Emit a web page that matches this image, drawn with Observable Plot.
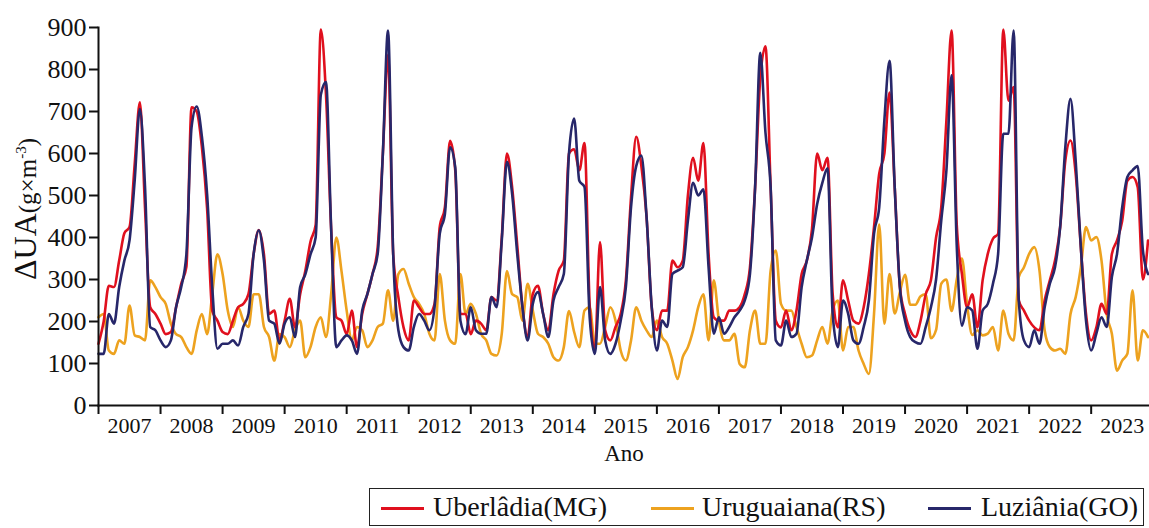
<!DOCTYPE html>
<html><head><meta charset="utf-8">
<script src="https://cdn.jsdelivr.net/npm/d3@7"></script>
<script src="https://cdn.jsdelivr.net/npm/@observablehq/plot@0.6"></script>
<style>
body{margin:0;background:#fff;font-family:"Liberation Serif","Times New Roman",serif;}
#wrap{position:relative;width:1149px;height:528px;overflow:hidden;background:#fff;}
#legend{position:absolute;left:369px;top:488px;width:775px;height:38px;border:1.5px solid #222;box-sizing:border-box;font-size:28px;color:#111;}
.sw{position:absolute;top:18px;width:43px;height:0;border-top:3px solid;}
.lb{position:absolute;top:2px;line-height:32px;white-space:nowrap;}
</style></head><body><div id="wrap"><div id="chart"></div><div id="legend"></div></div>
<script>
const startYear = 2007;
const years = [2007,2008,2009,2010,2011,2012,2013,2014,2015,2016,2017,2018,2019,2020,2021,2022,2023];
const yTicks = [0,100,200,300,400,500,600,700,800,900];
const seriesNames = ["Uberlâdia(MG)", "Uruguaiana(RS)", "Luziânia(GO)"];
const seriesColors = ["#e0101e", "#eda21f", "#27276a"];

// monthly values, Jan 2007 – Dec 2023
const uberlandia = [
147,200,285,282,345,410,425,575,722,470,234,218,
195,170,175,234,290,330,710,700,615,470,226,202,
175,170,202,234,242,265,360,418,360,218,226,155,
202,254,186,265,320,390,430,895,740,420,210,202,
170,226,139,218,265,313,377,600,835,360,258,186,
155,250,234,218,218,242,425,472,630,560,218,218,
170,202,195,179,258,250,400,600,520,380,234,163,
265,285,218,179,265,321,345,600,610,560,625,240,
131,389,179,155,187,218,298,496,640,570,450,234,
179,226,226,345,329,345,500,590,535,625,361,210,
202,202,226,226,234,265,329,520,780,855,520,202,
186,226,179,226,313,345,420,600,560,590,265,186,
298,250,202,195,234,313,425,552,600,745,520,282,
218,179,163,202,265,298,400,472,679,893,430,313,
234,265,186,298,361,397,409,895,726,758,250,226,
202,186,179,250,298,345,425,583,631,552,377,218,
155,186,242,218,361,393,440,535,544,520,300,393];

const uruguaiana = [
210,218,131,123,155,147,238,167,163,155,298,282,
258,242,195,170,163,139,123,179,218,170,265,360,
313,226,187,234,202,187,265,265,187,163,107,170,
163,139,179,202,115,139,187,210,163,265,400,320,
226,155,187,179,139,155,187,195,274,202,313,325,
290,258,242,218,171,155,313,202,155,147,313,218,
242,218,171,155,123,119,171,320,265,258,202,290,
226,171,163,147,115,107,139,225,175,139,226,234,
147,147,187,234,202,131,107,155,234,202,179,163,
202,163,147,107,63,115,139,179,234,265,155,298,
202,155,155,171,99,91,179,226,147,147,321,369,
242,226,226,187,147,115,119,155,187,147,226,250,
131,187,187,131,99,75,218,431,195,313,219,270,
311,240,240,260,265,160,180,290,300,225,300,350,
240,168,179,167,171,187,131,226,171,155,306,329,
361,377,321,179,139,131,135,123,218,258,329,425,
393,401,345,218,171,83,107,123,274,107,179,163];

const luziania = [
123,123,218,195,282,345,393,536,706,520,187,179,
155,139,155,234,282,360,663,712,640,504,282,135,
147,147,155,143,187,218,360,417,345,202,195,147,
195,210,163,282,312,360,400,740,770,420,139,155,
167,155,123,226,265,313,361,600,893,360,179,139,
131,187,218,202,179,234,409,456,615,567,202,170,
234,179,171,171,258,234,393,580,504,360,234,155,
242,270,218,163,250,282,313,600,683,535,520,210,
123,282,155,123,147,202,282,472,570,595,450,234,
131,202,187,313,321,329,440,530,500,515,329,171,
210,171,187,210,226,250,313,520,840,650,520,155,
143,202,163,171,282,345,400,480,530,565,218,139,
250,218,155,147,187,250,409,472,679,821,520,282,
202,163,151,147,187,234,300,440,560,786,380,190,
234,226,135,226,242,290,361,647,647,893,250,155,
139,179,147,234,290,329,425,615,730,583,377,202,
131,171,210,187,306,361,472,544,560,570,370,313];

const toRows = (vals) => vals.map((v, i) => ({t: startYear + i / 12, v}));
const rowsU = toRows(uberlandia), rowsR = toRows(uruguaiana), rowsL = toRows(luziania);

const chart = Plot.plot({
  width: 1149,
  height: 480,
  marginLeft: 98,
  marginRight: 0,
  marginTop: 27,
  marginBottom: 75,
  style: {fontFamily: '"Liberation Serif","Times New Roman",serif', color: "#111", background: "white"},
  x: {domain: [2007, 2023.94]},
  y: {domain: [0, 900]},
  marks: [
    Plot.line(rowsR, {x: "t", y: "v", stroke: seriesColors[1], strokeWidth: 2.6, curve: "monotone-x"}),
    Plot.line(rowsU, {x: "t", y: "v", stroke: seriesColors[0], strokeWidth: 2.6, curve: "monotone-x"}),
    Plot.line(rowsL, {x: "t", y: "v", stroke: seriesColors[2], strokeWidth: 2.6, curve: "monotone-x"}),
    Plot.frame({anchor: "left", stroke: "#111", strokeWidth: 2}),
    Plot.frame({anchor: "bottom", stroke: "#111", strokeWidth: 2}),
    Plot.axisY({ticks: yTicks, tickSize: 9, tickPadding: 3, fontSize: 26, strokeWidth: 2, label: null}),
    Plot.axisX({ticks: years, tickSize: 9, tickFormat: () => "", strokeWidth: 2, label: null}),
    Plot.axisX(years.map(y => y + 0.5), {tickSize: 0, tickPadding: 12, tickFormat: d => String(Math.floor(d)), fontSize: 22, label: null}),
    Plot.text(["Ano"], {frameAnchor: "bottom", dy: 55, fontSize: 23, fill: "#111"})
  ]
});
document.getElementById("chart").appendChild(chart);

// y-axis title with superscript
const svg = d3.select(chart);
const yl = svg.append("text")
  .attr("transform", "translate(36,209) rotate(-90)")
  .attr("text-anchor", "middle")
  .attr("fill", "#111")
  .style("font-family", '"Liberation Serif","Times New Roman",serif');
yl.append("tspan").attr("font-size", 32).text("ΔUA");
yl.append("tspan").attr("font-size", 25).text("(g×m");
yl.append("tspan").attr("font-size", 15).attr("dy", -10).text("-3");
yl.append("tspan").attr("font-size", 25).attr("dy", 10).text(")");

// legend
const lg = document.getElementById("legend");
const swX = [11, 281, 558], lbX = [63, 332, 611];
seriesNames.forEach((name, k) => {
  const s = document.createElement("span");
  s.className = "sw"; s.style.left = swX[k] + "px"; s.style.borderTopColor = seriesColors[k];
  const t = document.createElement("span");
  t.className = "lb"; t.style.left = lbX[k] + "px"; t.textContent = name;
  lg.appendChild(s); lg.appendChild(t);
});
</script></body></html>
